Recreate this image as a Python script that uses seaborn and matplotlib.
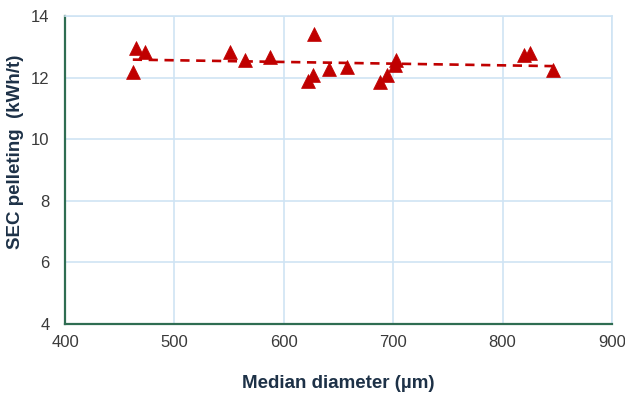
import matplotlib
matplotlib.use("Agg")
import matplotlib.pyplot as plt
import seaborn as sns
import pandas as pd

# Median particle diameter (µm) and specific energy consumption of pelleting (kWh/t)
median_diameter = [462, 465, 473, 551, 565, 587, 622, 627, 628, 641, 658,
                   688, 694, 702, 703, 820, 825, 846]
sec_pelleting = [12.19, 12.95, 12.82, 12.84, 12.57, 12.68, 11.90, 12.08, 13.42,
                 12.27, 12.35, 11.87, 12.08, 12.41, 12.57, 12.73, 12.81, 12.25]

x_ticks = [400, 500, 600, 700, 800, 900]
y_ticks = [4, 6, 8, 10, 12, 14]

df = pd.DataFrame({"d50": median_diameter, "sec": sec_pelleting})

sns.set_theme(style="white")
plt.rcParams["font.family"] = ["Liberation Sans", "DejaVu Sans"]

red = "#c00000"
grid_blue = "#cfe4f4"
spine_green = "#2f6d52"
label_navy = "#1d3147"

fig = plt.figure(figsize=(6.25, 3.94), dpi=100)
ax = fig.add_axes([0.104, 0.178, 0.875, 0.781])

sns.scatterplot(data=df, x="d50", y="sec", marker="^", s=100, color=red,
                edgecolor=red, linewidth=0.5, ax=ax, zorder=3)
sns.regplot(data=df, x="d50", y="sec", scatter=False, ci=None, ax=ax,
            line_kws=dict(color=red, linestyle=(0, (3.5, 2.5)), linewidth=1.9, zorder=2))

ax.set_xlim(400, 900)
ax.set_ylim(4, 14)
ax.set_xticks(x_ticks)
ax.set_yticks(y_ticks)
ax.grid(True, color=grid_blue, linewidth=1.2)
ax.set_axisbelow(True)

for side in ("top", "right"):
    ax.spines[side].set_color(grid_blue)
    ax.spines[side].set_linewidth(1.2)
for side in ("left", "bottom"):
    ax.spines[side].set_color(spine_green)
    ax.spines[side].set_linewidth(1.6)

ax.tick_params(axis="x", labelsize=12, colors="#3a3a3a", length=0, pad=8)
ax.tick_params(axis="y", labelsize=12, colors="#3a3a3a", length=0, pad=11)
ax.set_xlabel("Median diameter (µm)", fontsize=13.5, fontweight="bold",
              color=label_navy, labelpad=18)
ax.set_ylabel("SEC pelleting  (kWh/t)", fontsize=13.5, fontweight="bold",
              color=label_navy, labelpad=8)
ax.yaxis.set_label_coords(-0.075, 0.56)

fig.savefig("out.png", dpi=100)
